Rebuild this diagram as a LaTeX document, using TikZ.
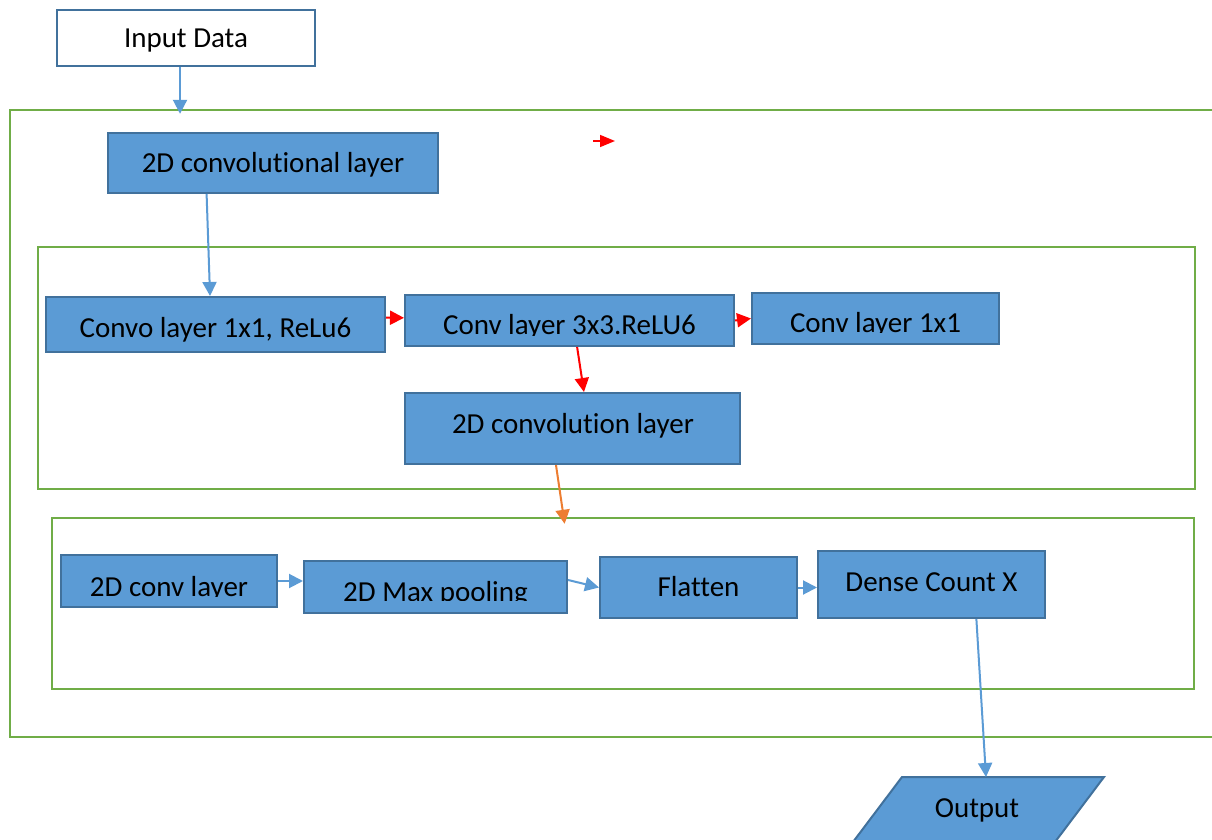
\documentclass[tikz,border=0pt]{standalone}
\usepackage{fontspec}
\setmainfont{Carlito}[Ligatures=NoCommon]
\usetikzlibrary{arrows.meta,calc,fit}
\definecolor{boxfill}{HTML}{5B9BD5}
\definecolor{boxline}{HTML}{41719C}
\definecolor{grn}{HTML}{70AD47}
\definecolor{arrblue}{HTML}{5B9BD5}
\definecolor{arrred}{HTML}{FF0000}
\definecolor{arrorange}{HTML}{ED7D31}
\begin{document}
\begin{tikzpicture}[x=0.5pt,y=-0.5pt,
  layer/.style={draw=boxline, fill=boxfill, line width=1pt, inner sep=0pt},
  inbox/.style={draw=boxline, fill=white, line width=1pt, inner sep=0pt},
  group/.style={draw=grn, line width=1.2pt, inner sep=0pt},
  txt/.style={anchor=base, font=\fontsize{14.5}{17}\selectfont, inner sep=0pt, text=black},
  conn/.style={line width=1pt, -{Triangle[length=7pt,width=7pt]}},
  bl/.style={conn, draw=arrblue},
  rd/.style={conn, draw=arrred},
  og/.style={conn, draw=arrorange}]
\useasboundingbox (0,0) rectangle (1212,840);
\fill[white] (0,0) rectangle (1212,840);
\clip (0,0) rectangle (1212,840);

% group frames
\node[group, fit={(10,110) (1240,737)}] (outer) {};
\node[group, fit={(38,247) (1195,489)}] (g1) {};
\node[group, fit={(52,518) (1194,689)}] (g2) {};

% boxes
\node[inbox, fit={(57,10) (315,66)}] (in) {};
\node[txt] (int) at (186,48) {Input Data};

\node[layer, fit={(108,133) (438,193)}] (c1) {};
\node[txt] (c1t) at (273,173) {2D convolutional layer};

\node[layer, fit={(46,297) (385,352)}] (b1) {};
\node[txt] (b1t) at (215.5,337) {Convo layer 1x1, ReLu6};

\node[layer, fit={(405,295) (734,346)}] (b2) {};
\begin{scope}
\clip (405,295) rectangle (734,335.5);
\node[txt] (b2t) at (569.5,335) {Conv layer 3x3.ReLU6};
\end{scope}

\node[layer, fit={(752,293) (999,344)}] (b3) {};
\begin{scope}
\clip (752,293) rectangle (999,332.5);
\node[txt] (b3t) at (875.5,332) {Conv layer 1x1};
\end{scope}

\node[layer, fit={(405,393) (740,464)}] (b4) {};
\node[txt] (b4t) at (573,433) {2D convolution layer};

\node[layer, fit={(61,555) (277,607)}] (d1) {};
\begin{scope}
\clip (61,555) rectangle (277,596.5);
\node[txt] (d1t) at (169,596) {2D conv layer};
\end{scope}

\node[layer, fit={(304,561) (567,613)}] (d2) {};
\begin{scope}
\clip (304,561) rectangle (567,600.5);
\node[txt] (d2t) at (435.5,601) {2D Max pooling};
\end{scope}

\node[layer, fit={(600,557) (797,618)}] (d3) {};
\node[txt] (d3t) at (698.5,596) {Flatten};

\node[layer, fit={(818,551) (1045,618)}] (d4) {};
\node[txt] (d4t) at (931.5,591) {Dense Count X};

% output parallelogram
\draw[layer] (902,777) -- (1104,777) -- (1049,850) -- (847,850) -- cycle;
\coordinate (outtop) at (986,777);
\node[txt] (outt) at (977,817) {Output};

% connector end points
\coordinate (inb) at ($(in.south west)!0.477!(in.south east)$);
\coordinate (outerin) at ([yshift=-2.5pt]inb |- outer.north);
\coordinate (g2in) at ([yshift=-3.5pt]$(g2.north west)!0.449!(g2.north east)$);

% connectors
\draw[bl] (inb) -- (outerin);
\draw[bl] ($(c1.south west)!0.3!(c1.south east)$) -- ($(b1.north west)!0.484!(b1.north east)$);
\draw[rd] ($(b1.north east)!0.38!(b1.south east)$) -- ($(b2.north west)!0.45!(b2.south west)$);
\draw[rd] (b2.east) -- (b3.west);
\draw[rd] ($(b2.south west)!0.523!(b2.south east)$) -- ($(b4.north west)!0.534!(b4.north east)$);
\draw[og] ($(b4.south west)!0.451!(b4.south east)$) -- (g2in);
\draw[bl] (d1.east) -- (d1.east -| d2.west);
\draw[bl] ($(d2.north east)!0.37!(d2.south east)$) -- (d3.west);
\draw[bl] (d3.east) -- (d3.east -| d4.west);
\draw[bl] ($(d4.south west)!0.696!(d4.south east)$) -- (outtop);

% stray red arrow
\coordinate (ra) at (593,141);
\coordinate (rb) at (615,141);
\draw[rd, line width=0.8pt, -{Triangle[length=7.5pt,width=6pt]}] (ra) -- (rb);
\end{tikzpicture}
\end{document}
